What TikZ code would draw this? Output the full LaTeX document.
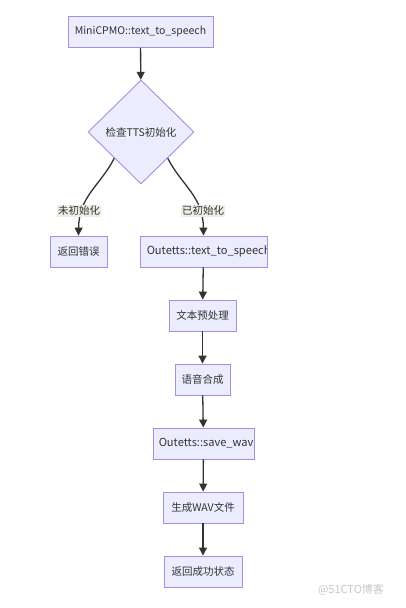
\documentclass[tikz,border=0pt]{standalone}
\usepackage{fontspec}
\setmainfont{Noto Sans CJK SC}
\usetikzlibrary{shapes.geometric,arrows.meta}
\definecolor{nodefill}{HTML}{ECECFF}
\definecolor{nodeline}{HTML}{A48FE2}
\definecolor{ink}{HTML}{333333}
\definecolor{lblbg}{HTML}{EEEEE4}
\tikzset{
  box/.style={draw=nodeline, fill=nodefill, line width=0.9pt, inner sep=0pt, minimum height=31pt, text=ink, font=\fontsize{10.5pt}{12pt}\selectfont},
  cliptext/.style={anchor=west, inner sep=0pt, text=ink, font=\fontsize{11.1pt}{12pt}\selectfont},
  dia/.style={draw=nodeline, fill=nodefill, line width=0.9pt, shape=diamond, inner sep=0pt, minimum width=106pt, minimum height=104pt, text=ink, font=\fontsize{10.5pt}{12pt}\selectfont},
  lbl/.style={fill=lblbg, inner sep=1pt, text=ink, font=\fontsize{10.5pt}{12pt}\selectfont},
  arr/.style={draw=ink, line width=1.3pt, -{Triangle[length=8pt,width=8pt]}},
}
\begin{document}
\begin{tikzpicture}[x=1pt,y=-1pt]
\useasboundingbox[fill=white] (0,0) rectangle (406,608);
\node[box, minimum width=145pt] (a) at (140.5,32) {MiniCPMO::text\_to\_speech};
\node[dia] (d) at (141,132) {检查TTS初始化};
\node[box, minimum width=57pt] (err) at (78.5,251.5) {返回错误};
\node[box, minimum width=127pt] (o) at (203.5,251.5) {};
\begin{scope}
\clip ([xshift=0.5pt,yshift=-0.5pt]o.south west) rectangle ([xshift=-0.5pt,yshift=0.5pt]o.north east);
\node[cliptext] (ot) at ([xshift=7pt]o.west) {Outetts::text\_to\_speech};
\end{scope}
\node[box, minimum width=67pt] (p) at (202.5,315.5) {文本预处理};
\node[box, minimum width=55pt] (s) at (202.5,379.5) {语音合成};
\node[box, minimum width=101pt] (w) at (203.5,443.5) {};
\begin{scope}
\clip ([xshift=0.5pt,yshift=-0.5pt]w.south west) rectangle ([xshift=-0.5pt,yshift=0.5pt]w.north east);
\node[cliptext] (wt) at ([xshift=6pt]w.west) {Outetts::save\_wav};
\end{scope}
\node[box, minimum width=80pt] (g) at (203,507.5) {生成WAV文件};
\node[box, minimum width=78pt] (r) at (203,571.5) {返回成功状态};
\draw[arr] (a) -- (d);
\draw[arr] (d.south west) .. controls (100,186) and (79,196) .. (err.north);
\draw[arr] (d.south east) .. controls (182,186) and (203,196) .. (o.north);
\node[lbl] (l1) at (79,211) {未初始化};
\node[lbl] (l2) at (203,211) {已初始化};
\draw[arr] (o) -- (p);
\draw[arr] (p) -- (s);
\draw[arr] (s) -- (w);
\draw[arr] (w) -- (g);
\draw[arr] (g) -- (r);
\node[text=black!22, font=\fontsize{11pt}{12pt}\selectfont] (wm) at (351,590) {@51CTO博客};
\end{tikzpicture}
\end{document}
